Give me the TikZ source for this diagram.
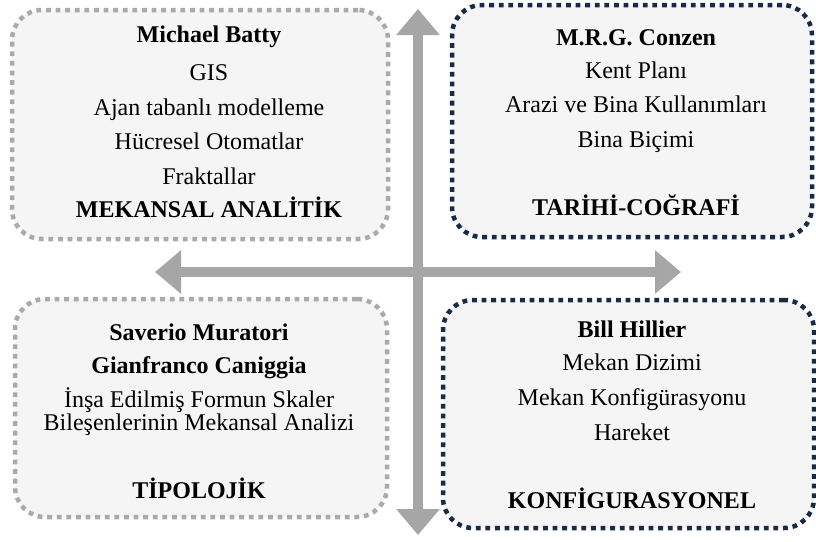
\documentclass[tikz,border=0pt]{standalone}
\usepackage{fontspec}
\setmainfont{LiberationSerif}[Extension=.ttf, UprightFont=*-Regular, BoldFont=*-Bold]
\usetikzlibrary{arrows.meta}

\definecolor{boxfill}{HTML}{F5F5F5}
\definecolor{lightrim}{HTML}{AAAAAA}
\definecolor{navyrim}{HTML}{172A47}
\definecolor{axisgrey}{HTML}{A6A6A6}

\tikzset{
  panel/.style={rectangle, rounded corners=30pt, fill=boxfill, line width=4.5pt,
    dash pattern=on 4.8pt off 4.8pt, inner sep=0pt, outer sep=0pt},
  greypanel/.style={panel, draw=lightrim},
  navypanel/.style={panel, draw=navyrim},
  txt/.style={anchor=base, inner sep=0pt, font=\fontsize{24}{28}\selectfont},
  bold/.style={txt, font=\fontsize{24}{28}\selectfont\bfseries},
  axis/.style={axisgrey, line width=10pt,
    {Triangle[length=26pt,width=42pt]}-{Triangle[length=26pt,width=42pt]}}
}

\begin{document}
\begin{tikzpicture}[x=1pt, y=-1pt]
\useasboundingbox (0,0) rectangle (816,541);

% four quadrant panels
\node[greypanel, minimum width=376pt, minimum height=229pt] (tl) at (200,124.5) {};
\node[navypanel, minimum width=360pt, minimum height=232pt] (tr) at (632,121) {};
\node[greypanel, minimum width=372pt, minimum height=218pt] (bl) at (201,408) {};
\node[navypanel, minimum width=371pt, minimum height=228pt] (br) at (628.5,414) {};

% axes
\coordinate (up) at (418,9);
\coordinate (down) at (418,535);
\coordinate (left) at (155,272);
\coordinate (right) at (681,272);
\draw[axis] (down) -- (up);
\draw[axis] (left) -- (right);

% top left: spatial analytics
\node[bold] (tl1) at (209,42) {Michael Batty};
\node[txt]  (tl2) at (209,80) {GIS};
\node[txt]  (tl3) at (209,115) {Ajan tabanlı modelleme};
\node[txt]  (tl4) at (209,149) {Hücresel Otomatlar};
\node[txt]  (tl5) at (209,184) {Fraktallar};
\node[bold] (tl6) at (209,217) {MEKANSAL ANALİTİK};

% top right: historico-geographical
\node[bold] (tr1) at (636,45) {M.R.G. Conzen};
\node[txt]  (tr2) at (636,78) {Kent Planı};
\node[txt]  (tr3) at (636,112) {Arazi ve Bina Kullanımları};
\node[txt]  (tr4) at (636,147) {Bina Biçimi};
\node[bold] (tr5) at (636,215) {TARİHİ-COĞRAFİ};

% bottom left: typological
\node[bold] (bl1) at (199,340) {Saverio Muratori};
\node[bold] (bl2) at (199,373) {Gianfranco Caniggia};
\node[txt]  (bl3) at (199,407) {İnşa Edilmiş Formun Skaler};
\node[txt]  (bl4) at (199,430) {Bileşenlerinin Mekansal Analizi};
\node[bold] (bl5) at (199,498) {TİPOLOJİK};

% bottom right: configurational
\node[bold] (br1) at (632,337) {Bill Hillier};
\node[txt]  (br2) at (632,370) {Mekan Dizimi};
\node[txt]  (br3) at (632,405) {Mekan Konfigürasyonu};
\node[txt]  (br4) at (632,440) {Hareket};
\node[bold] (br5) at (632,508) {KONFİGURASYONEL};
\end{tikzpicture}
\end{document}
